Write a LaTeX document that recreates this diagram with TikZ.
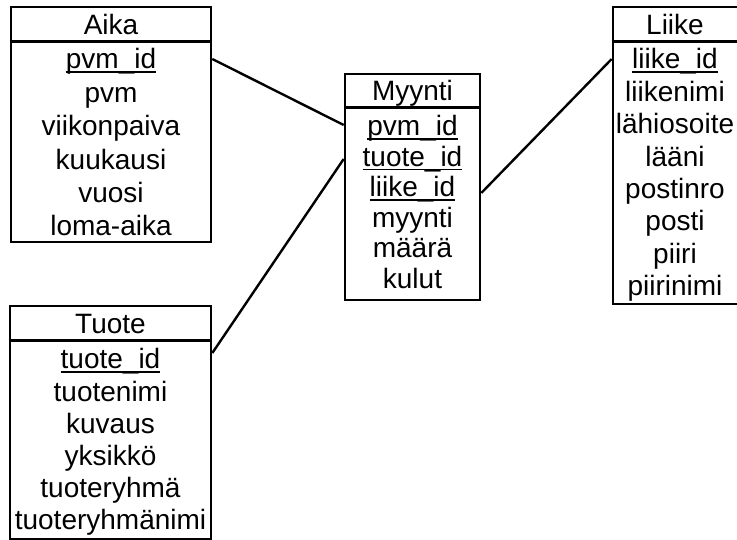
\documentclass[tikz,border=0pt]{standalone}
\usepackage{fontspec}
\setmainfont{Liberation Sans}
\newsavebox{\keybox}
% key attribute: text with a rule drawn under it
\newcommand{\keyattr}[1]{\sbox{\keybox}{#1}\rlap{\rule[-4pt]{\wd\keybox}{1.6pt}}\usebox{\keybox}}
\begin{document}
\begin{tikzpicture}[x=1pt,y=-1pt,
  tbl/.style={draw, line width=2.6pt, inner sep=0pt, rectangle, fill=none},
  hsep/.style={line width=3pt},
  fld/.style={anchor=base, inner sep=0pt, font=\fontsize{28}{32}\selectfont},
  link/.style={line width=2.4pt}]
\useasboundingbox (0,0) rectangle (737,540);

% ---------- table frames ----------
\node[tbl, minimum width=200pt, minimum height=235pt] (aika)   at (111,124.5) {};
\node[tbl, minimum width=135pt, minimum height=226pt] (myynti) at (412.5,187) {};
\node[tbl, minimum width=130pt, minimum height=297pt] (liike)  at (678,155.5) {};
\node[tbl, minimum width=201pt, minimum height=233pt] (tuote)  at (110.5,422.5) {};

% header separators
\coordinate (aikaH)   at (0,42);
\coordinate (myyntiH) at (0,108);
\coordinate (liikeH)  at (0,42);
\coordinate (tuoteH)  at (0,341);
\draw[hsep] (aika.west |- aikaH) -- (aika.east |- aikaH);
\draw[hsep] (myynti.west |- myyntiH) -- (myynti.east |- myyntiH);
\draw[hsep] (liike.west |- liikeH) -- (liike.east |- liikeH);
\draw[hsep] (tuote.west |- tuoteH) -- (tuote.east |- tuoteH);

% ---------- Aika ----------
\node[fld] (aikaT)  at (111,34.5)  {Aika};
\node[fld] (aika1)  at (111,69)    {\keyattr{pvm\_id}};
\node[fld] (aika2)  at (111,102.5) {pvm};
\node[fld] (aika3)  at (111,136)   {viikonpaiva};
\node[fld] (aika4)  at (111,169.5) {kuukausi};
\node[fld] (aika5)  at (111,203)   {vuosi};
\node[fld] (aika6)  at (111,236)   {loma-aika};

% ---------- Myynti ----------
\node[fld] (myyntiT) at (412.5,101) {Myynti};
\node[fld] (myynti1) at (412.5,136) {\keyattr{pvm\_id}};
\node[fld] (myynti2) at (412.5,166.5) {\keyattr{tuote\_id}};
\node[fld] (myynti3) at (412.5,197) {\keyattr{liike\_id}};
\node[fld] (myynti4) at (412.5,227.5) {myynti};
\node[fld] (myynti5) at (412.5,258) {määrä};
\node[fld] (myynti6) at (412.5,288.5) {kulut};

% ---------- Liike ----------
\node[fld] (liikeT) at (675,34.5)  {Liike};
\node[fld] (liike1) at (675,69)    {\keyattr{liike\_id}};
\node[fld] (liike2) at (675,101.4) {liikenimi};
\node[fld] (liike3) at (675,133.8) {lähiosoite};
\node[fld] (liike4) at (675,166.2) {lääni};
\node[fld] (liike5) at (675,198.6) {postinro};
\node[fld] (liike6) at (675,231)   {posti};
\node[fld] (liike7) at (675,263.4) {piiri};
\node[fld] (liike8) at (675,295.8) {piirinimi};

% ---------- Tuote ----------
\node[fld] (tuoteT) at (110.5,333.5) {Tuote};
\node[fld] (tuote1) at (110.5,369) {\keyattr{tuote\_id}};
\node[fld] (tuote2) at (110.5,401) {tuotenimi};
\node[fld] (tuote3) at (110.5,433) {kuvaus};
\node[fld] (tuote4) at (110.5,465) {yksikkö};
\node[fld] (tuote5) at (110.5,497) {tuoteryhmä};
\node[fld] (tuote6) at (110.5,529) {tuoteryhmänimi};

% ---------- relationships ----------
\coordinate (aikaOut)   at (aika.east |- 0,59);
\coordinate (myyntiInA) at (myynti.west |- 0,125);
\coordinate (tuoteOut)  at (tuote.east |- 0,353);
\coordinate (myyntiInT) at (myynti.west |- 0,159);
\coordinate (myyntiOut) at (myynti.east |- 0,193);
\coordinate (liikeIn)   at (liike.west |- 0,59);
\draw[link] (aikaOut) -- (myyntiInA);
\draw[link] (tuoteOut) -- (myyntiInT);
\draw[link] (myyntiOut) -- (liikeIn);
\end{tikzpicture}
\end{document}
